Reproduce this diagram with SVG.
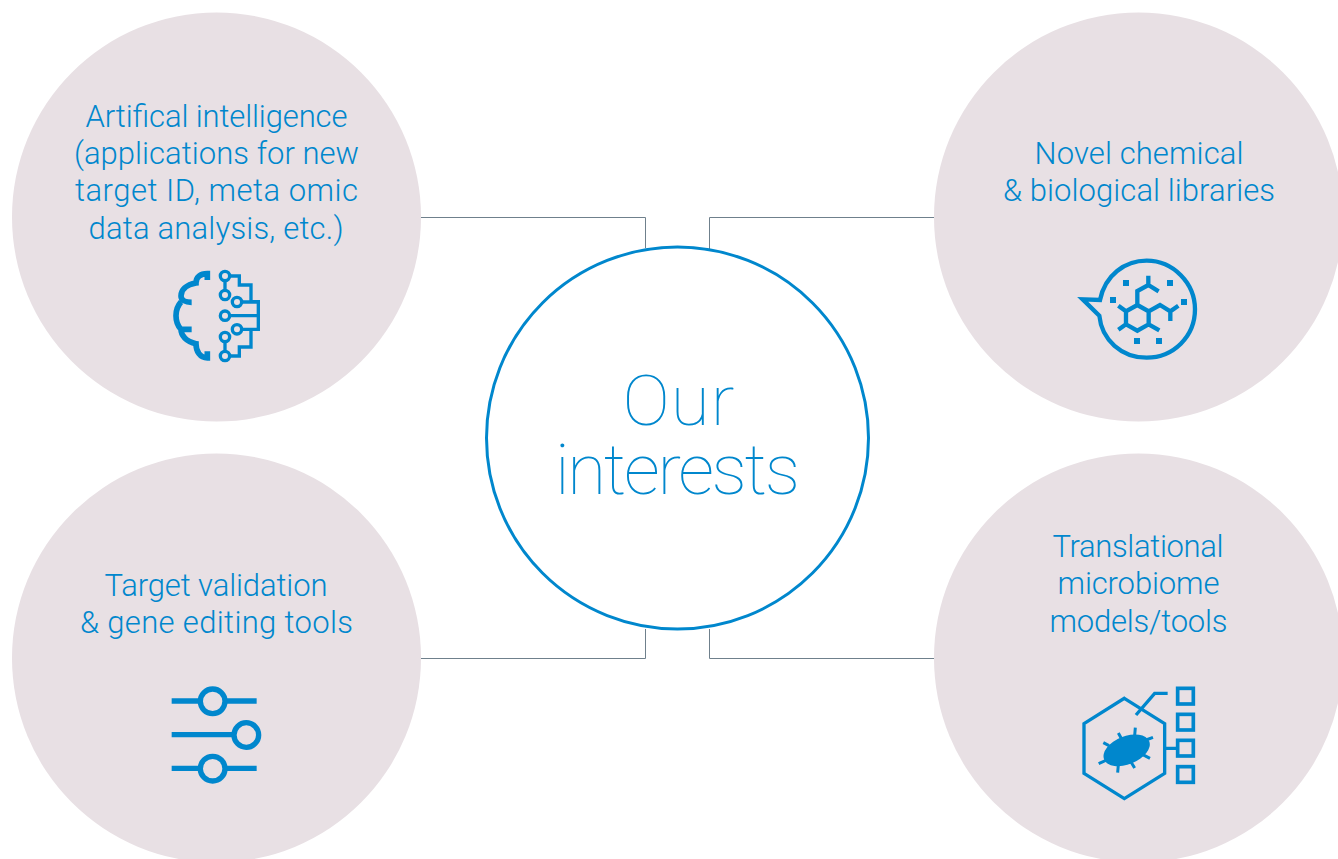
<svg xmlns="http://www.w3.org/2000/svg" width="1338" height="859" viewBox="0 0 1338 859">
<style>
.bg{fill:#e8e0e4}
.t{font-family:Roboto,"Liberation Sans",sans-serif;font-weight:300;font-size:31px;fill:#0087cd;text-anchor:middle}
.c{font-size:71px;font-weight:100}
.i{fill:none;stroke:#0087cd;stroke-linecap:butt;stroke-linejoin:miter}
.f{fill:#0087cd;stroke:none}
.l{fill:none;stroke:#6f808c;stroke-width:1}
</style>
<rect width="1338" height="859" fill="#fff"/>
<g id="connectors">
<path class="l" d="M421 217.500H645.500V248"/>
<path class="l" d="M935 217.500H709.500V250"/>
<path class="l" d="M421 658.500H645.500V629"/>
<path class="l" d="M935 658.500H709.500V629"/>
</g>
<g id="node-center">
<circle cx="677.500" cy="438" r="191" fill="#fff" stroke="#0087cd" stroke-width="3"/>
<text class="t c" x="678.500" y="425" textLength="112">Our</text>
<text class="t c" x="677.500" y="494" textLength="245">interests</text>
</g>
<g id="node-ai">
<circle class="bg" cx="216.500" cy="217" r="204.500"/>
<text class="t" x="216.500" y="127" textLength="262">Artifical intelligence</text>
<text class="t" x="216.500" y="164" textLength="285">(applications for new</text>
<text class="t" x="216.500" y="201" textLength="283">target ID, meta omic</text>
<text class="t" x="216" y="239" textLength="255">data analysis, etc.)</text>
<g transform="translate(150 250) scale(.3333)">
<path class="i" stroke-width="17" stroke-linecap="round" d="M172 90V71C150 71 138 82 138 99C108 104 93 120 93 138C93 150 105 157 125 157M93 156C82 168 78 182 78 197C78 212 82 226 93 238C93 238 105 238 125 238M93 238C93 256 108 275 138 281C138 304 150 324 172 324V304"/>
<g stroke-width="10" class="i">
<circle cx="225" cy="78" r="14"/><circle cx="225" cy="135" r="14"/><circle cx="261" cy="156" r="14"/><circle cx="225" cy="197" r="14"/><circle cx="261" cy="238" r="14"/><circle cx="225" cy="261" r="14"/><circle cx="225" cy="318" r="14"/>
<path d="M225 92V121M225 275V304M239 78H268V105H303V155H325V238H275M275 156H325M239 197H325M239 318H268V291H303V238"/>
</g>
</g>
</g>
<g id="node-libraries">
<circle class="bg" cx="1138.500" cy="217" r="204.500"/>
<text class="t" x="1139" y="164" textLength="209">Novel chemical</text>
<text class="t" x="1139" y="201" textLength="272">&amp; biological libraries</text>
<g transform="translate(1060 245) scale(.3333)">
<path class="i" stroke-width="13" stroke-linejoin="round" d="M120 165C135 90 195 47 260 47C340 47 405 115 405 193C405 275 340 338 260 338C185 338 125 285 118 212L68 163Z"/>
<path class="i" stroke-width="13" d="M232 180L266 199V238L232 257L198 238V199ZM232 180V138L265 120L296 139M265 120V92M266 199L300 180L331 199L355 182M331 199V228M266 238L298 256M198 238L175 254M198 199L175 182"/>
<g class="f"><rect x="189" y="105" width="18" height="18"/><rect x="321" y="105" width="18" height="18"/><rect x="150" y="156" width="18" height="18"/><rect x="363" y="162" width="18" height="18"/><rect x="222" y="279" width="18" height="18"/><rect x="288" y="279" width="18" height="18"/></g>
</g>
</g>
<g id="node-validation">
<circle class="bg" cx="216.500" cy="658" r="204.500"/>
<text class="t" x="216" y="596" textLength="223">Target validation</text>
<text class="t" x="216.500" y="633" textLength="273">&amp; gene editing tools</text>
<g transform="translate(150 670) scale(.3333)">
<path class="i" stroke-width="16" d="M65 93H145M231 93H320M65 194H247M65 295H145M231 295H320"/>
<g class="i" stroke-width="16"><circle cx="188" cy="94" r="37"/><circle cx="289" cy="195" r="37"/><circle cx="188" cy="296" r="37"/></g>
</g>
</g>
<g id="node-microbiome">
<circle class="bg" cx="1138.500" cy="658" r="204.500"/>
<text class="t" x="1138" y="557" textLength="171">Translational</text>
<text class="t" x="1138.500" y="594" textLength="162">microbiome</text>
<text class="t" x="1138.500" y="632" textLength="178">models/tools</text>
<g transform="translate(1060 675) scale(.3333)">
<path class="i" stroke-width="10" stroke-linejoin="round" d="M193 70L314 146V295L193 371L72 295V146Z"/>
<path class="i" stroke-width="10" stroke-linecap="round" d="M228 120L284 55H323M314 220H352"/>
<g class="i" stroke-width="11"><rect x="353" y="40" width="47" height="47"/><rect x="353" y="118" width="47" height="47"/><rect x="353" y="196" width="47" height="47"/><rect x="353" y="275" width="47" height="47"/></g>
<ellipse class="f" cx="200" cy="226" rx="73" ry="42" transform="rotate(-22 200 226)"/>
<path class="i" stroke-width="9" stroke-linecap="round" d="M147 212L130 203M185 192L175 174M224 182L226 158M258 195L279 187M247 238L270 250M213 261L224 279M175 270L173 293M140 255L116 266"/>
</g>
</g>
</svg>
